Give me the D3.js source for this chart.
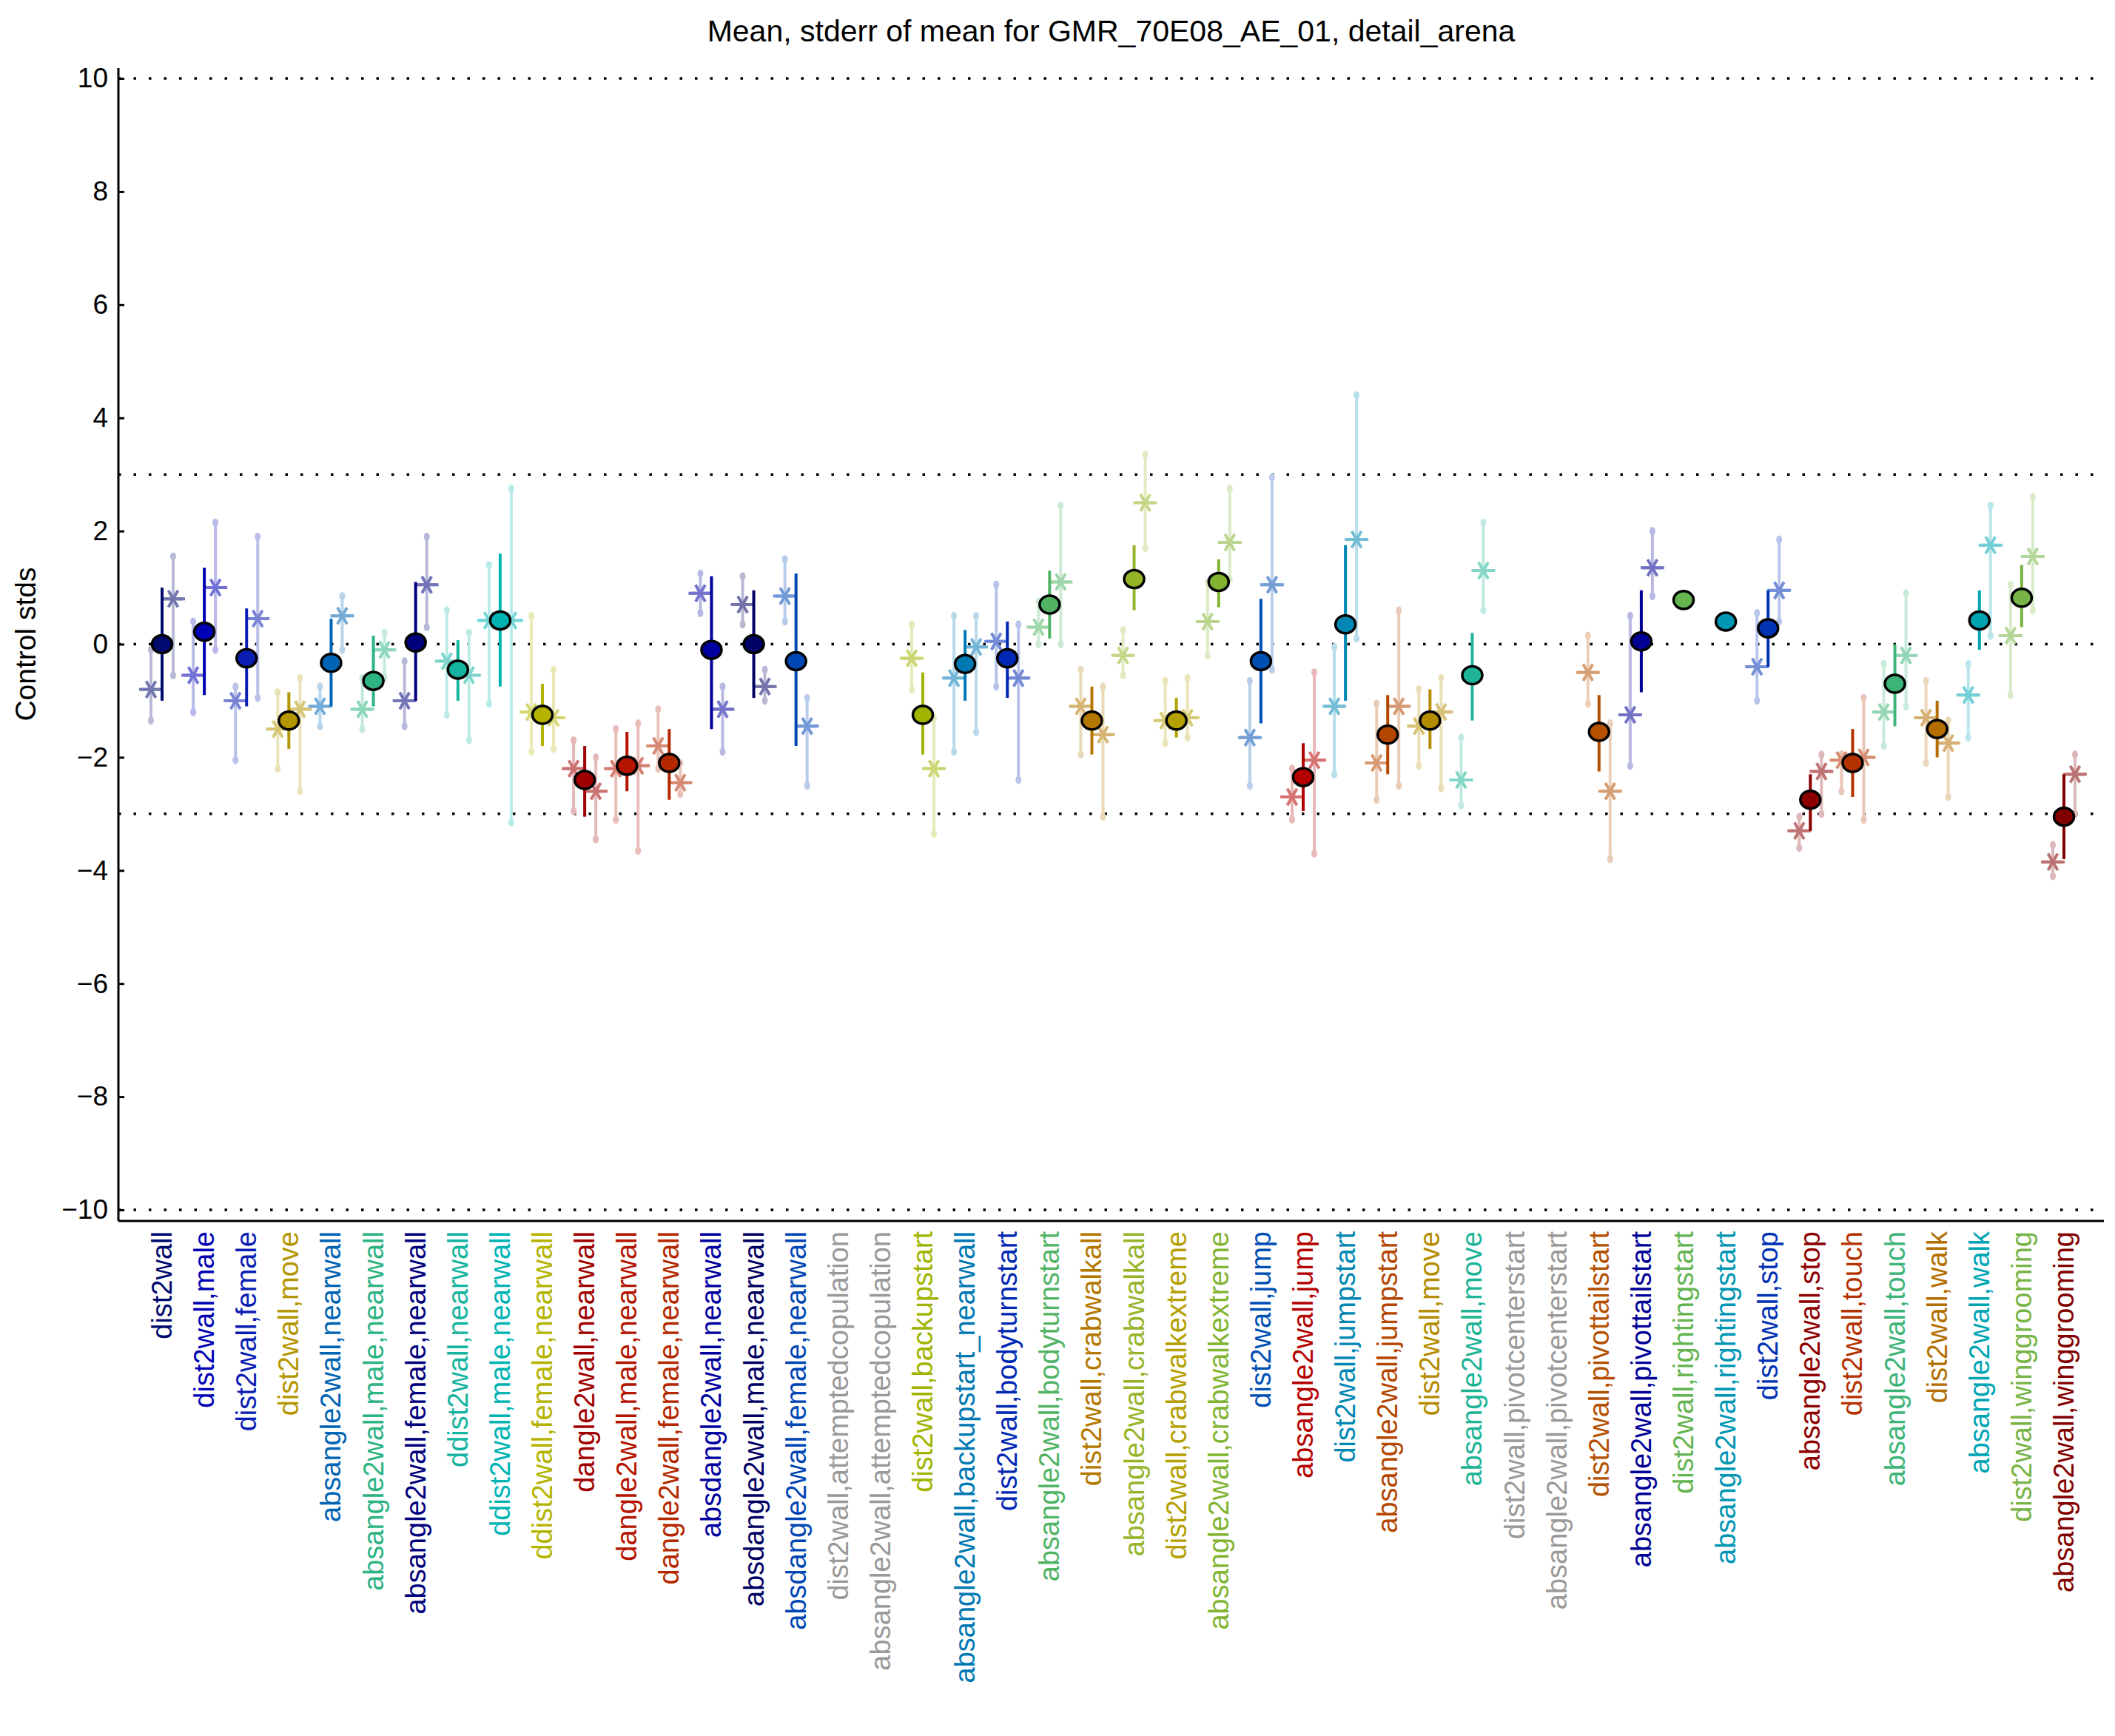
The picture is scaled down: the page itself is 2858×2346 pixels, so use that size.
<!DOCTYPE html>
<html><head><meta charset="utf-8">
<script src="https://cdn.jsdelivr.net/npm/d3@7"></script>
<style>body{margin:0;background:#fff}text{font-family:"Liberation Sans",Arial,sans-serif}</style>
</head><body>
<svg id="chart" width="2858" height="2346"></svg>
<script>
var labels=["dist2wall","dist2wall,male","dist2wall,female","dist2wall,move","absangle2wall,nearwall","absangle2wall,male,nearwall","absangle2wall,female,nearwall","ddist2wall,nearwall","ddist2wall,male,nearwall","ddist2wall,female,nearwall","dangle2wall,nearwall","dangle2wall,male,nearwall","dangle2wall,female,nearwall","absdangle2wall,nearwall","absdangle2wall,male,nearwall","absdangle2wall,female,nearwall","dist2wall,attemptedcopulation","absangle2wall,attemptedcopulation","dist2wall,backupstart","absangle2wall,backupstart_nearwall","dist2wall,bodyturnstart","absangle2wall,bodyturnstart","dist2wall,crabwalkall","absangle2wall,crabwalkall","dist2wall,crabwalkextreme","absangle2wall,crabwalkextreme","dist2wall,jump","absangle2wall,jump","dist2wall,jumpstart","absangle2wall,jumpstart","dist2wall,move","absangle2wall,move","dist2wall,pivotcenterstart","absangle2wall,pivotcenterstart","dist2wall,pivottailstart","absangle2wall,pivottailstart","dist2wall,rightingstart","absangle2wall,rightingstart","dist2wall,stop","absangle2wall,stop","dist2wall,touch","absangle2wall,touch","dist2wall,walk","absangle2wall,walk","dist2wall,winggrooming","absangle2wall,winggrooming"];
var colors=["#000a6e","#0000b4","#0a1eb4","#b49600","#0064b4","#2db482","#00007d","#14b4a0","#00b4b4","#b4b400","#a00000","#b41400","#b42800","#0000a0","#000064","#0046b4","#999999","#999999","#a0b400","#0078b4","#0028b4","#50b464","#b47800","#96b428","#b4a000","#82b432","#0050b4","#b40000","#0087b4","#b44600","#b48c00","#1eb496","#999999","#999999","#b45000","#000096","#64b450","#0096b4","#0032b4","#8c0000","#b43200","#3cb478","#b46e00","#00a5b4","#78b446","#820000"];
// mean, stderr low, stderr high (null = no data)
var means=[0,0.22,-0.25,-1.35,-0.33,-0.65,0.03,-0.45,0.42,-1.25,-2.4,-2.15,-2.1,-0.1,0,-0.3,null,null,-1.25,-0.35,-0.25,0.7,-1.35,1.15,-1.35,1.1,-0.3,-2.35,0.35,-1.6,-1.35,-0.55,null,null,-1.55,0.05,0.78,0.4,0.28,-2.75,-2.1,-0.7,-1.5,0.42,0.82,-3.05];
var errLo=[-1.0,-0.9,-1.1,-1.85,-1.1,-1.1,-1.0,-1.0,-0.75,-1.8,-3.05,-2.6,-2.75,-1.5,-0.95,-1.8,null,null,-1.95,-1.0,-0.95,0.1,-1.95,0.6,-1.65,0.65,-1.4,-2.95,-1.0,-2.3,-1.85,-1.35,null,null,-2.25,-0.85,0.78,0.4,-0.4,-3.3,-2.7,-1.45,-2.0,-0.1,0.3,-3.8];
var errHi=[1.0,1.35,0.63,-0.85,0.45,0.15,1.1,0.07,1.6,-0.7,-1.8,-1.55,-1.5,1.2,0.95,1.25,null,null,-0.5,0.25,0.4,1.3,-0.75,1.75,-0.95,1.5,0.8,-1.75,1.75,-0.9,-0.8,0.2,null,null,-0.9,0.95,0.78,0.4,0.95,-2.3,-1.5,0,-1.0,0.95,1.4,-2.3];
// left star (male-ish) value and range
var leftVal=[-0.8,-0.55,-1.0,-1.5,-1.1,-1.15,-1.0,-0.3,0.42,-1.2,-2.2,-2.2,-1.8,0.9,0.7,0.85,null,null,-0.25,-0.6,0.05,0.3,-1.1,-0.2,-1.35,0.4,-1.65,-2.7,-1.1,-2.1,-1.45,-2.4,null,null,-0.5,-1.25,null,null,-0.4,-3.3,-2.05,-1.2,-1.3,-0.9,0.15,-3.85];
var leftLo=[-1.35,-1.2,-2.05,-2.2,-1.45,-1.5,-1.45,-1.25,-1.05,-1.9,-2.95,-3.1,-2.2,0.55,0.35,0.4,null,null,-0.8,-1.9,-0.75,0,-1.95,-0.55,-1.75,-0.2,-2.5,-3.1,-2.3,-2.75,-2.15,-2.85,null,null,-1.05,-2.15,null,null,-1.0,-3.6,-2.6,-1.8,-2.1,-1.65,-0.9,-4.1];
var leftHi=[-0.1,0.4,-0.75,-0.85,-0.75,-0.6,-0.3,0.6,1.4,0.5,-1.7,-1.5,-1.15,1.25,1.2,1.5,null,null,0.35,0.5,1.05,0.75,-0.45,0.25,-0.65,1.1,-0.65,-2.2,-0.05,-1.05,-0.8,-1.65,null,null,0.15,0.5,null,null,0.55,-3.05,-1.95,-0.35,-0.65,-0.35,1.05,-3.55];
var rightVal=[0.8,1.0,0.45,-1.15,0.5,-0.1,1.05,-0.55,0.42,-1.3,-2.6,-2.15,-2.45,-1.15,-0.75,-1.45,null,null,-2.2,-0.05,-0.6,1.1,-1.6,2.5,-1.3,1.8,1.05,-2.05,1.85,-1.1,-1.2,1.3,null,null,-2.6,1.35,null,null,0.95,-2.25,-2.0,-0.2,-1.75,1.75,1.55,-2.3];
var rightLo=[-0.55,-0.1,-0.95,-2.6,-0.1,-0.6,0.3,-1.7,-3.15,-1.85,-3.45,-3.65,-2.65,-1.9,-1.0,-2.5,null,null,-3.35,-1.55,-2.4,0,-3.05,1.7,-1.65,1.15,-0.45,-3.7,0.1,-2.5,-2.55,0.6,null,null,-3.8,0.85,null,null,0.4,-3.0,-3.1,-1.1,-2.7,0.15,0.6,-3.0];
var rightHi=[1.55,2.15,1.9,-0.6,0.85,0.2,1.9,0.2,2.75,-0.45,-2.0,-1.4,-2.1,-0.75,-0.45,-0.95,null,null,-1.3,0.5,0.35,2.45,-0.75,3.35,-0.6,2.75,2.95,-0.5,4.4,0.6,-0.6,2.15,null,null,-1.4,2.0,null,null,1.85,-1.95,-0.95,0.9,-1.35,2.45,2.6,-1.95];
var yTicks=[-10,-8,-6,-4,-2,0,2,4,6,8,10];
var refLines=[10,3,0,-3,-10];

var svg=d3.select("#chart");
var x=d3.scalePoint().domain(d3.range(labels.length)).range([219,2789]);
var y=d3.scaleLinear().domain([-10,10]).range([1635,106]);
var pl=160,pr=2843,pt=92,pb=1650;

svg.append("text").attr("x",(pl+pr)/2).attr("y",56).attr("text-anchor","middle").attr("font-size",41).text("Mean, stderr of mean for GMR_70E08_AE_01, detail_arena");
svg.append("text").attr("transform","translate(48,"+y(0)+") rotate(-90)").attr("text-anchor","middle").attr("font-size",39).text("Control stds");

refLines.forEach(function(v){
  svg.append("line").attr("x1",pl).attr("x2",pr).attr("y1",y(v)).attr("y2",y(v))
    .attr("stroke","#000").attr("stroke-width",3.5).attr("stroke-dasharray","3.5,17");
});

var yAxis=d3.axisLeft(y).tickValues(yTicks).tickSize(-8).tickPadding(14).tickFormat(function(d){return d<0?"\u2212"+(-d):d;});
var ga=svg.append("g").attr("transform","translate("+pl+",0)").call(yAxis);
ga.select(".domain").remove();
ga.selectAll("line").attr("stroke-width",3);
ga.selectAll("text").attr("font-size",37).attr("font-family","Liberation Sans, Arial, sans-serif");
svg.append("line").attr("x1",pl).attr("x2",pl).attr("y1",pt).attr("y2",pb).attr("stroke","#000").attr("stroke-width",3);
svg.append("line").attr("x1",pl).attr("x2",pr).attr("y1",pb).attr("y2",pb).attr("stroke","#000").attr("stroke-width",3);

function light(c,t){return d3.interpolateRgb(c,"#ffffff")(t);}
function star(g,cx,cy,col){
  var r=13;
  [0,60,120].forEach(function(a){
    var rad=a*Math.PI/180;
    g.append("line").attr("x1",cx-r*Math.cos(rad)).attr("x2",cx+r*Math.cos(rad))
      .attr("y1",cy-r*Math.sin(rad)).attr("y2",cy+r*Math.sin(rad)).attr("stroke",col).attr("stroke-width",4);
  });
  g.append("line").attr("x1",cx-16).attr("x2",cx+16).attr("y1",cy).attr("y2",cy).attr("stroke",col).attr("stroke-width",4);
}
var marks=svg.append("g");
function side(i,dx,v,lo,hi){
  if(v==null) return;
  var cx=x(i)+dx, c=colors[i];
  var rc=light(c,0.72), sc=light(c,0.45);
  marks.append("line").attr("x1",cx).attr("x2",cx).attr("y1",y(lo)).attr("y2",y(hi)).attr("stroke",rc).attr("stroke-width",4);
  [lo,hi].forEach(function(p){
    marks.append("ellipse").attr("cx",cx).attr("cy",y(p)).attr("rx",4).attr("ry",5.5).attr("fill",rc);
  });
  star(marks,cx,y(v),sc);
}
labels.forEach(function(l,i){
  side(i,-15,leftVal[i],leftLo[i],leftHi[i]);
  side(i,15,rightVal[i],rightLo[i],rightHi[i]);
});
labels.forEach(function(l,i){
  if(means[i]==null) return;
  marks.append("line").attr("x1",x(i)).attr("x2",x(i)).attr("y1",y(errLo[i])).attr("y2",y(errHi[i])).attr("stroke",colors[i]).attr("stroke-width",4);
  marks.append("ellipse").attr("cx",x(i)).attr("cy",y(means[i])).attr("rx",13.5).attr("ry",12).attr("fill",colors[i]).attr("stroke","#000").attr("stroke-width",3.5);
});

svg.append("g").selectAll("text").data(labels).join("text")
  .attr("transform",function(d,i){return "translate("+(x(i)+13)+","+(pb+14)+") rotate(-90)";})
  .attr("text-anchor","end").attr("font-size",38).attr("fill",function(d,i){return colors[i];})
  .text(function(d){return d;});
</script>
</body></html>
